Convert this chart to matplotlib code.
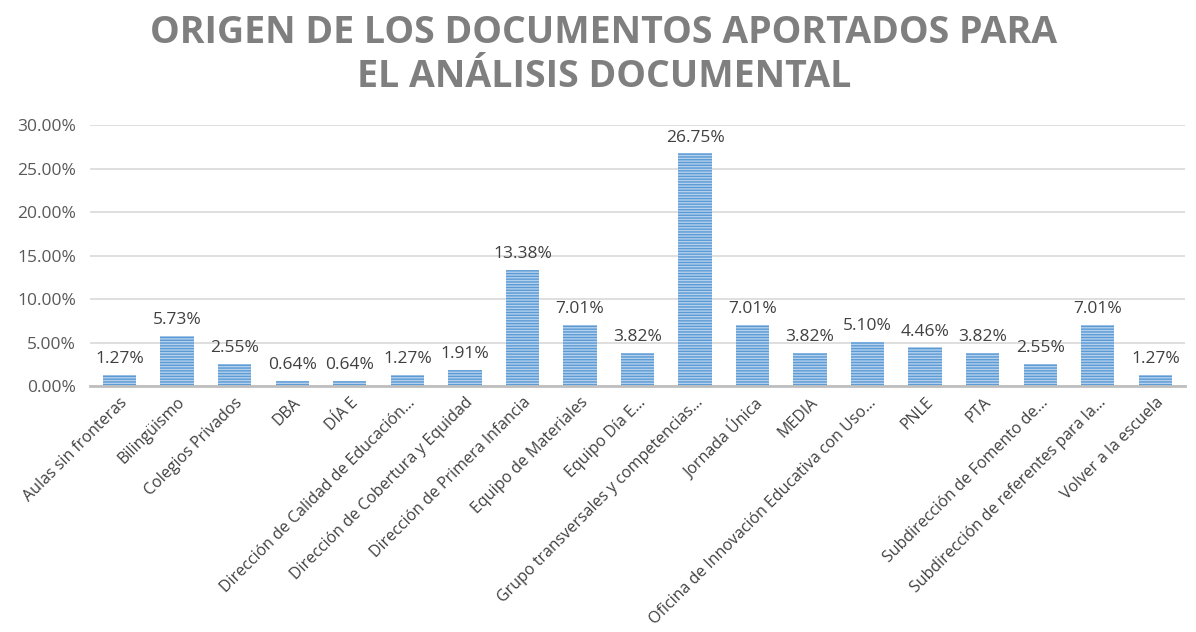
import matplotlib
matplotlib.use("Agg")
import matplotlib.pyplot as plt
import numpy as np

plt.rcParams['font.family'] = ['Open Sans', 'DejaVu Sans']
plt.rcParams['hatch.linewidth'] = 1.0

categories = [
    "Aulas sin fronteras", "Bilingüismo", "Colegios Privados", "DBA", "DÍA E",
    "Dirección de Calidad de Educación…", "Dirección de Cobertura y Equidad",
    "Dirección de Primera Infancia", "Equipo de Materiales", "Equipo Día E…",
    "Grupo transversales y competencias…", "Jornada Única", "MEDIA",
    "Oficina de Innovación Educativa con Uso…", "PNLE", "PTA",
    "Subdirección de Fomento de…", "Subdirección de referentes para la…",
    "Volver a la escuela",
]
values = [1.27, 5.73, 2.55, 0.64, 0.64, 1.27, 1.91, 13.38, 7.01, 3.82,
          26.75, 7.01, 3.82, 5.10, 4.46, 3.82, 2.55, 7.01, 1.27]
yticks = [0, 5, 10, 15, 20, 25, 30]

fig = plt.figure(figsize=(11.96, 6.32), dpi=100)
ax = fig.add_axes([0.075, 0.389, 0.916, 0.413])

x = np.arange(len(categories))
ax.bar(x, values, width=0.58, color='#b4d0ec', edgecolor='#5b9bd5',
       hatch='------', linewidth=0, zorder=3)

for xi, v in zip(x, values):
    ax.text(xi, v + 0.9, f"{v:.2f}%", ha='center', va='bottom',
            fontsize=12.5, color='#404040')

ax.set_xlim(-0.52, len(categories) - 0.48)
ax.set_ylim(0, 30)
ax.set_yticks(yticks)
ax.set_yticklabels([f"{t:.2f}%" for t in yticks], fontsize=12.5, color='#595959')
ax.set_xticks(x)
ax.set_xticklabels(categories, rotation=45, ha='right', rotation_mode='anchor',
                   fontsize=11.5, color='#404040')
ax.tick_params(axis='both', length=0)
ax.tick_params(axis='y', pad=10)
ax.tick_params(axis='x', pad=6)

ax.grid(axis='y', color='#d9d9d9', linewidth=1.2, zorder=0)
for s in ['top', 'right', 'left']:
    ax.spines[s].set_visible(False)
ax.spines['bottom'].set_color('#bfbfbf')
ax.spines['bottom'].set_linewidth(2)
ax.spines['bottom'].set_zorder(4)

fig.text(0.505, 0.948, "ORIGEN DE LOS DOCUMENTOS APORTADOS PARA",
         ha='center', va='center', fontsize=27, fontweight='bold', color='#7f7f7f')
fig.text(0.505, 0.878, "EL ANÁLISIS DOCUMENTAL",
         ha='center', va='center', fontsize=27, fontweight='bold', color='#7f7f7f')

fig.savefig("out.png", dpi=100)
